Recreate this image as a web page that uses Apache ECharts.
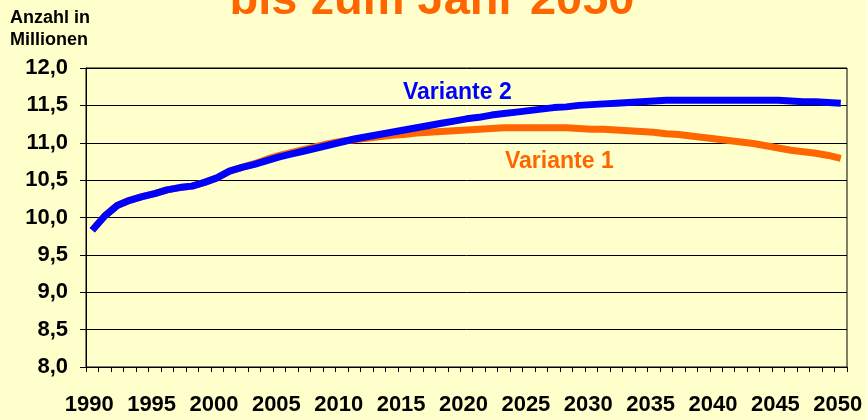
<!DOCTYPE html>
<html>
<head>
<meta charset="utf-8">
<script src="https://cdn.jsdelivr.net/npm/echarts@6/dist/echarts.min.js"></script>
<style>
  html, body { margin: 0; padding: 0; background: #FFFFCC; }
  #chart { width: 867px; height: 420px; }
</style>
</head>
<body>
<div id="chart"></div>
<script>
var years = [
    '1990','1991','1992','1993','1994','1995','1996','1997','1998','1999',
    '2000','2001','2002','2003','2004','2005','2006','2007','2008','2009',
    '2010','2011','2012','2013','2014','2015','2016','2017','2018','2019',
    '2020','2021','2022','2023','2024','2025','2026','2027','2028','2029',
    '2030','2031','2032','2033','2034','2035','2036','2037','2038','2039',
    '2040','2041','2042','2043','2044','2045','2046','2047','2048','2049',
    '2050'
];

// Variante 1 (orange)
var variante1 = [
    9.83, 10.02, 10.16, 10.23, 10.28, 10.32, 10.37, 10.40, 10.42, 10.47,
    10.53, 10.62, 10.67, 10.72, 10.78, 10.83, 10.87, 10.91, 10.95, 10.99,
    11.02, 11.04, 11.06, 11.08, 11.10, 11.11, 11.13, 11.14, 11.15, 11.16,
    11.17, 11.18, 11.19, 11.20, 11.20, 11.20, 11.20, 11.20, 11.20, 11.19,
    11.18, 11.18, 11.17, 11.16, 11.15, 11.14, 11.12, 11.11, 11.09, 11.07,
    11.05, 11.03, 11.01, 10.99, 10.96, 10.93, 10.90, 10.88, 10.86, 10.83,
    10.79
];

// Variante 2 (blue)
var variante2 = [
    9.83, 10.02, 10.16, 10.23, 10.28, 10.32, 10.37, 10.40, 10.42, 10.47,
    10.53, 10.62, 10.67, 10.71, 10.76, 10.81, 10.85, 10.89, 10.93, 10.97,
    11.01, 11.05, 11.08, 11.11, 11.14, 11.17, 11.20, 11.23, 11.26, 11.29,
    11.32, 11.34, 11.37, 11.39, 11.41, 11.43, 11.45, 11.47, 11.48, 11.50,
    11.51, 11.52, 11.53, 11.54, 11.55, 11.56, 11.57, 11.57, 11.57, 11.57,
    11.57, 11.57, 11.57, 11.57, 11.57, 11.57, 11.56, 11.55, 11.55, 11.54,
    11.53
];

var font = 'Liberation Sans, Arial, sans-serif';
var orange = '#FF6600';
var blue = '#0000FF';

var chart = echarts.init(document.getElementById('chart'));

var option = {
    backgroundColor: '#FFFFCC',
    animation: false,
    grid: {
        left: 86, right: 20, top: 68, bottom: 53,
        show: true,
        borderColor: '#000',
        borderWidth: 1,
        backgroundColor: 'transparent',
        outerBoundsMode: 'none',
        containLabel: false
    },
    graphic: [
        {
            type: 'text', left: null, x: 432, y: 1,
            style: { text: 'bis zum Jahr 2050', fill: orange, font: 'bold 47px ' + font,
                     textAlign: 'center', textVerticalAlign: 'middle' }
        },
        {
            type: 'text', x: 10, y: 18,
            style: { text: 'Anzahl in', fill: '#000', font: 'bold 18px ' + font,
                     textAlign: 'left', textVerticalAlign: 'middle' }
        },
        {
            type: 'text', x: 10, y: 40,
            style: { text: 'Millionen', fill: '#000', font: 'bold 18px ' + font,
                     textAlign: 'left', textVerticalAlign: 'middle' }
        },
        {
            type: 'text', x: 403, y: 93,
            style: { text: 'Variante 2', fill: blue, font: 'bold 23px ' + font,
                     textAlign: 'left', textVerticalAlign: 'middle' }
        },
        {
            type: 'text', x: 505, y: 162,
            style: { text: 'Variante 1', fill: orange, font: 'bold 23px ' + font,
                     textAlign: 'left', textVerticalAlign: 'middle' }
        }
    ],
    xAxis: {
        type: 'category',
        data: years,
        boundaryGap: true,
        axisLine: { lineStyle: { color: '#000', width: 1 } },
        axisTick: { show: true, interval: 0, length: 5, lineStyle: { color: '#000' } },
        axisLabel: {
            interval: 4,
            margin: 27,
            color: '#000',
            fontFamily: font,
            fontWeight: 'bold',
            fontSize: 22,
            padding: [0, 6, 0, 0],
            showMinLabel: true,
            showMaxLabel: true
        },
        splitLine: { show: false }
    },
    yAxis: {
        type: 'value',
        min: 8,
        max: 12,
        interval: 0.5,
        axisLine: { show: true, lineStyle: { color: '#000', width: 1 } },
        axisTick: { show: true, length: 6, lineStyle: { color: '#000' } },
        axisLabel: {
            margin: 18,
            color: '#000',
            fontFamily: font,
            fontWeight: 'bold',
            fontSize: 22,
            padding: [6, 0, 0, 0],
            formatter: function (v) { return v.toFixed(1).replace('.', ','); }
        },
        splitLine: { show: true, lineStyle: { color: '#000', width: 1 } }
    },
    series: [
        {
            name: 'Variante 1',
            type: 'line',
            data: variante1,
            symbol: 'none',
            lineStyle: { color: orange, width: 7, join: 'round' }
        },
        {
            name: 'Variante 2',
            type: 'line',
            data: variante2,
            symbol: 'none',
            lineStyle: { color: blue, width: 7, join: 'round' }
        }
    ]
};

chart.setOption(option);
</script>
</body>
</html>
